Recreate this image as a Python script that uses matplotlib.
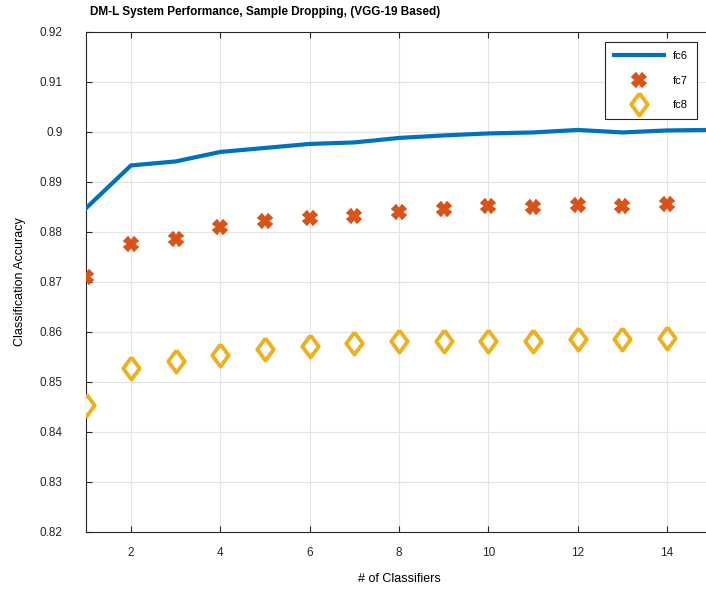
import matplotlib.pyplot as plt
from matplotlib.ticker import FuncFormatter

plt.rcParams['font.family'] = ['Liberation Sans', 'DejaVu Sans']

# data
x_fc6 = list(range(1, 16))
fc6 = [0.8848, 0.8933, 0.8941, 0.8960, 0.8968, 0.8976, 0.8979, 0.8988,
       0.8993, 0.8997, 0.8999, 0.9004, 0.8999, 0.9003, 0.9004]
x_pts = list(range(1, 15))
fc7 = [0.8709, 0.8776, 0.8785, 0.8809, 0.8821, 0.8828, 0.8832, 0.8840,
       0.8846, 0.8851, 0.8850, 0.8853, 0.8851, 0.8856]
fc8 = [0.8453, 0.8527, 0.8541, 0.8553, 0.8565, 0.8572, 0.8577, 0.8581,
       0.8581, 0.8581, 0.8581, 0.8586, 0.8586, 0.8588]

diamond = [(0, 1), (0.74, 0), (0, -1), (-0.74, 0), (0, 1)]

fig = plt.figure(figsize=(7.06, 5.89), dpi=100)
ax = fig.add_axes([0.1222, 0.0968, 0.886, 0.849])

ax.plot(x_fc6, fc6, color='#0072BD', lw=3, label='fc6', zorder=3)
ax.plot(x_pts, fc7, ls='none', marker='X', ms=9.5, color='#D95319',
        mec='#D95319', mew=1.2, label='fc7', zorder=3)
ax.plot(x_pts, fc8, ls='none', marker=diamond, ms=16, mfc='white',
        mec='#EDB120', mew=2.8, label='fc8', zorder=3)

ax.set_xlim(1, 15)
ax.set_ylim(0.82, 0.92)
ax.set_xticks(range(2, 15, 2))
ax.set_yticks([0.82 + 0.01 * i for i in range(11)])
ax.yaxis.set_major_formatter(FuncFormatter(lambda v, p: '%g' % round(v, 2)))
ax.grid(True, color='#e3e3e3', lw=0.8)
ax.set_axisbelow(True)
ax.tick_params(direction='in', length=4, labelsize=8.5, colors='#262626',
               top=True, right=True)
ax.tick_params(axis='y', pad=17)
ax.tick_params(axis='x', pad=11)
for s in ax.spines.values():
    s.set_color('#262626')
    s.set_linewidth(0.8)

ax.set_xlabel('# of Classifiers', fontsize=9, labelpad=10)
ax.set_ylabel('Classification Accuracy', fontsize=9, labelpad=10)
fig.text(90 / 706, 1 - 12 / 589, 'DM-L System Performance, Sample Dropping, (VGG-19 Based)',
         fontsize=8.5, fontweight='bold', ha='left', va='center')

leg = ax.legend(loc='upper right', bbox_to_anchor=(0.985, 0.99), fontsize=8,
                fancybox=False, edgecolor='#262626', framealpha=1,
                handlelength=4.5, labelspacing=1.3, borderpad=0.8)
leg.get_frame().set_linewidth(0.8)

fig.savefig('out.png', dpi=100)
